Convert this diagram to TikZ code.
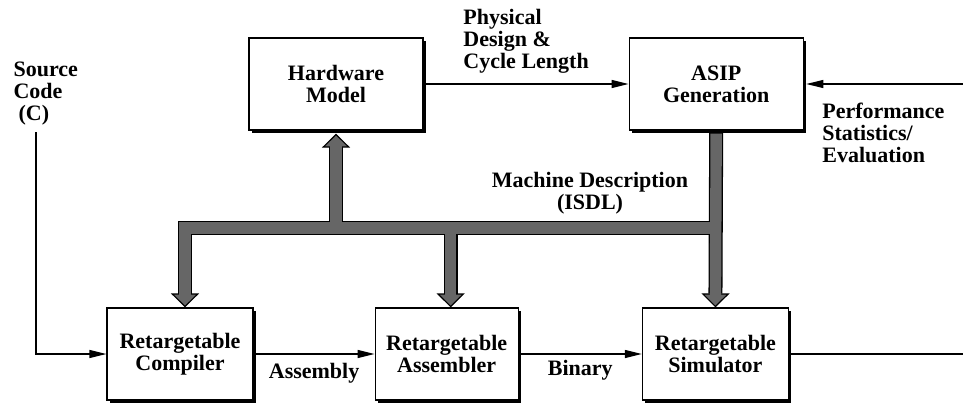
\documentclass[tikz,border=0pt]{standalone}
\usepackage{fontspec}
\setmainfont{Liberation Serif}[BoldFont={Liberation Serif Bold}]
\usetikzlibrary{positioning, arrows.meta, shadows}
\definecolor{busgray}{gray}{0.4}
\tikzset{
  block/.style={draw, line width=1.2pt, fill=white, align=center, minimum height=92pt,
    general shadow={fill=black, shadow xshift=3pt, shadow yshift=-3pt}},
  lbl/.style={inner sep=0pt, align=left},
  mdbus/.style={line width=14pt, draw=black, -{Triangle[width=28pt,length=14pt,fill=busgray,line width=1.2pt]}},
  mdfill/.style={line width=11.4pt, draw=busgray, shorten >=12pt},
}

\begin{document}
\begin{tikzpicture}[x=1pt, y=-1pt, line width=1.2pt, >={Triangle[length=17pt,width=8pt]},
  font=\rmfamily\fontsize{22}{22}\selectfont\bfseries]
  \useasboundingbox (0,0) rectangle (963,404);
  \node[block, minimum width=174pt] (hw) at (336,84) {Hardware\\Model};
  \node[block, minimum width=174pt, right=205pt of hw] (asip) {ASIP\\Generation};
  \node[block, minimum width=146pt] (comp) at (180,354) {Retargetable\\Compiler};
  \node[block, minimum width=143pt, right=121pt of comp] (asm) {Retargetable\\Assembler};
  \node[block, minimum width=146pt, right=123pt of asm] (sim) {Retargetable\\Simulator};

  \coordinate (bus) at (590,228);
  \coordinate (srcin) at (36,132);
  \coordinate (perf) at (963,84);
  \coordinate (out) at (963,357);

  \node[lbl, anchor=north west] (src) at (13,61) {Source\\Code\\\hspace*{5pt}(C)};
  \node[lbl, align=center, above=13pt of bus] (mdlbl) {Machine Description\\(ISDL)};

  \draw[->] (srcin) |- (comp.west);
  \draw[->] (comp.east) -- node[lbl, below=9pt] {Assembly} (asm.west);
  \draw[->] (asm.east) -- node[lbl, below=6pt] {Binary} (sim.west);
  \draw (sim.east) -- (sim.east -| out);
  \draw[->] (hw.east) -- node[lbl, above=10pt] {Physical\\Design \&\\Cycle Length} (asip.west);
  \draw[->, shorten >=2.5pt] (perf) -- node[lbl, below=18pt] {Performance\\Statistics/\\Evaluation} (asip.east);

  \draw[mdbus] (asip.south) -- (sim.north);
  \draw[mdbus] ([xshift=4pt]asip.south |- bus) -| ([xshift=5pt]comp.north);
  \draw[mdbus] ([xshift=4pt]asm.north |- bus) -- ([xshift=4pt]asm.north);
  \draw[mdbus, shorten >=3pt] (hw.south |- bus) -- (hw.south);
  \draw[mdfill, shorten <=3pt] (asip.south) -- (sim.north);
  \draw[mdfill] ([xshift=4pt]asip.south |- bus) -| ([xshift=5pt]comp.north);
  \draw[mdfill] ([xshift=4pt]asm.north |- bus) -- ([xshift=4pt]asm.north);
  \draw[mdfill, shorten >=15pt] (hw.south |- bus) -- (hw.south);
\end{tikzpicture}
\end{document}
